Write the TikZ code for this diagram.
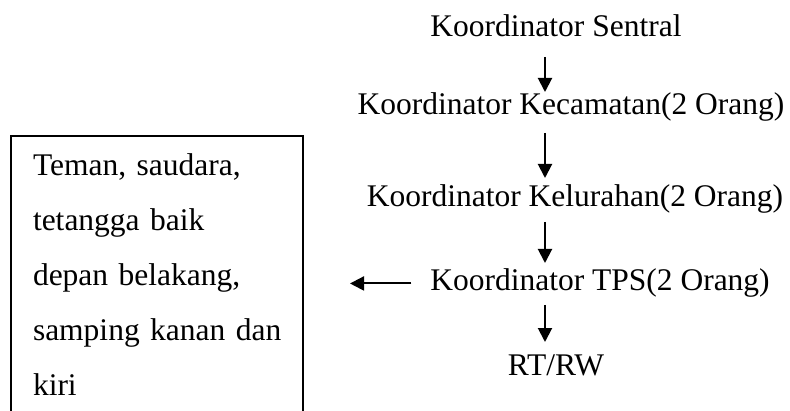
\documentclass[tikz,border=0pt]{standalone}
\usepackage{fontspec}
\setmainfont{Liberation Serif}
\usetikzlibrary{arrows.meta}

\begin{document}
\begin{tikzpicture}
    [x=1pt,y=1pt,line width=2pt,
     link/.style={-{Triangle[length=14pt,width=14pt]}},
     level/.style={font=\fontsize{31.5}{38}\selectfont,inner sep=0pt,anchor=base},
     box/.style={draw,anchor=north west,text width=248pt,align=left,inner xsep=22pt,
                 inner ysep=18pt,font=\fontsize{31.5}{55}\selectfont}]

    \useasboundingbox (0,0) rectangle (790,410);

    \foreach \name/\x/\y/\text in {sentral/556/373/Koordinator Sentral,
                                   kec/571/295/Koordinator Kecamatan(2 Orang),
                                   kel/575/203/Koordinator Kelurahan(2 Orang),
                                   tps/600/119/Koordinator TPS(2 Orang),
                                   rt/556/35/{RT/RW}}
      \node[level] (\name) at (\x,\y) {\text};

    \node[box] (box) at (10,275) {Teman, saudara,\\ tetangga baik\\ depan belakang,\\
                                  \mbox{samping kanan dan}\\ kiri};

    \coordinate (axis) at (545,0);

    \foreach \from/\to/\a/\b in {sentral/kec/20/23, kec/kel/18/29, kel/tps/15/28, tps/rt/14/33}
      \draw[link] ([yshift=-\a pt]\from.base -| axis) -- ([yshift=\b pt]\to.base -| axis);

    \draw[link,shorten >=46pt] ([xshift=-18pt]tps.west) -- (tps.west -| box.east);
\end{tikzpicture}
\end{document}
